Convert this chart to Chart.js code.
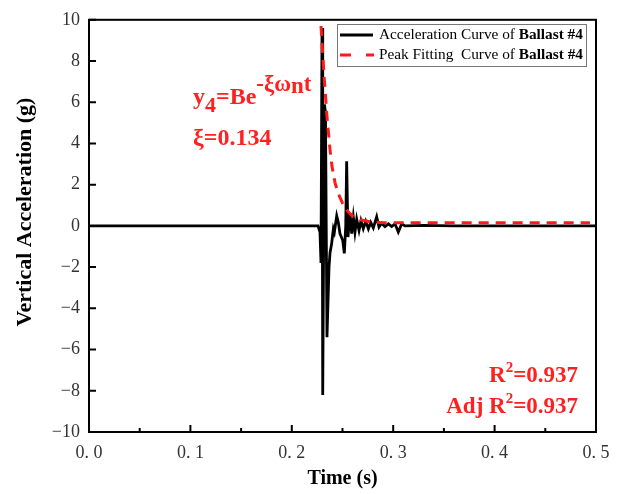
<!DOCTYPE html>
<html>
<head>
<meta charset="utf-8">
<script src="https://cdn.jsdelivr.net/npm/chart.js@4.4.0/dist/chart.umd.min.js"></script>
<style>
  html, body { margin: 0; padding: 0; background: #fff; }
  #wrap { width: 621px; height: 494px; }
</style>
</head>
<body>
<div id="wrap"><canvas id="accChart" width="621" height="494"></canvas></div>
<script>
// acceleration record of ballast #4
const timeAcc = [0, 0.2258, 0.2278, 0.2288, 0.2298, 0.2305, 0.2322, 0.2332, 0.2347, 0.2367, 0.2377,
  0.2393, 0.2410, 0.2420, 0.2443, 0.2459, 0.2475, 0.2502, 0.2518, 0.2532, 0.2541, 0.2554,
  0.2574, 0.2591, 0.2607, 0.2623, 0.2640, 0.2663, 0.2682, 0.2705, 0.2729, 0.2755, 0.2778,
  0.2804, 0.2837, 0.2860, 0.2886, 0.2919, 0.2952, 0.2985, 0.3018, 0.3050, 0.3084, 0.3116,
  0.33, 0.36, 0.5];
const accel = [0, 0, -0.3, -1.8, 9.6, -8.2, 5.9, 5.5, -5.4, -2.0, -1.3,
  -0.86, -0.14, -0.3, 0.49, 0.17, -0.38, -0.7, -1.33, 0, 3.14, -0.54,
  0.57, -0.38, 0.41, -0.3, 0.33, -0.22, 0.25, -0.14, 0.22, -0.14, 0.17,
  -0.1, 0.44, -0.06, 0.13, -0.03, 0.1, -0.03, 0.1, -0.3, 0.1, 0,
  0.03, 0, 0];

// peak fitting curve
const timeFit = [0.2288, 0.2318, 0.2347, 0.2377, 0.2396, 0.2426, 0.2456, 0.2505, 0.2554, 0.2604,
  0.2673, 0.2771, 0.2870, 0.30, 0.35, 0.40, 0.494];
const accFit = [9.7, 7.3, 5.3, 3.7, 2.9, 2.1, 1.6, 1.05, 0.7, 0.45,
  0.3, 0.2, 0.16, 0.15, 0.15, 0.15, 0.15];

const xTicks = [0, 0.1, 0.2, 0.3, 0.4, 0.5];
const xMinor = [0.05, 0.15, 0.25, 0.35, 0.45];
const yTicks = [-10, -8, -6, -4, -2, 0, 2, 4, 6, 8, 10];

const serif = '"Liberation Serif", "Times New Roman", serif';

function richText(ctx, parts, x, y, align) {
  let w = 0;
  parts.forEach(p => { ctx.font = p.font; w += ctx.measureText(p.t).width; });
  let cx = align === 'right' ? x - w : x;
  parts.forEach(p => {
    ctx.font = p.font;
    ctx.fillText(p.t, cx, y + (p.dy || 0));
    cx += ctx.measureText(p.t).width;
  });
}

const decor = {
  id: 'decor',
  afterDraw(chart) {
    const ctx = chart.ctx;
    const a = chart.chartArea;
    const xs = chart.scales.x, ys = chart.scales.y;
    ctx.save();
    // frame
    ctx.strokeStyle = '#000';
    ctx.lineWidth = 2;
    ctx.strokeRect(a.left, a.top, a.right - a.left, a.bottom - a.top);
    // inward ticks
    ctx.beginPath();
    xTicks.forEach(v => { const p = xs.getPixelForValue(v); ctx.moveTo(p, a.bottom); ctx.lineTo(p, a.bottom - 7); });
    xMinor.forEach(v => { const p = xs.getPixelForValue(v); ctx.moveTo(p, a.bottom); ctx.lineTo(p, a.bottom - 4); });
    yTicks.forEach(v => { const p = ys.getPixelForValue(v); ctx.moveTo(a.left, p); ctx.lineTo(a.left + 7, p); });
    ctx.stroke();

    // y axis title (sits a bit above the middle in the original)
    ctx.save();
    ctx.translate(25, 212);
    ctx.rotate(-Math.PI / 2);
    ctx.fillStyle = '#000';
    ctx.font = 'bold 22px ' + serif;
    ctx.textAlign = 'center';
    ctx.textBaseline = 'middle';
    ctx.fillText('Vertical Acceleration (g)', 0, 0);
    ctx.restore();

    // legend
    ctx.fillStyle = '#fff';
    ctx.fillRect(337, 24, 250, 43);
    ctx.strokeStyle = '#777';
    ctx.lineWidth = 1;
    ctx.strokeRect(337.5, 24.5, 249, 42);
    ctx.lineWidth = 3;
    ctx.strokeStyle = '#000';
    ctx.beginPath(); ctx.moveTo(340, 35); ctx.lineTo(373, 35); ctx.stroke();
    ctx.strokeStyle = '#ff1a1a';
    ctx.beginPath(); ctx.moveTo(340, 55); ctx.lineTo(351, 55); ctx.moveTo(366, 55); ctx.lineTo(374, 55); ctx.stroke();
    ctx.fillStyle = '#000';
    ctx.textBaseline = 'middle';
    const lf = '15.3px ' + serif, lb = 'bold 15.3px ' + serif;
    richText(ctx, [{t: 'Acceleration Curve of ', font: lf}, {t: 'Ballast #4', font: lb}], 379, 35);
    richText(ctx, [{t: 'Peak Fitting  Curve of ', font: lf}, {t: 'Ballast #4', font: lb}], 379, 55);

    // annotations
    ctx.textBaseline = 'alphabetic';
    ctx.fillStyle = '#ff2020';
    const big = 'bold 24px ' + serif, sup = 'bold 23px ' + serif, rf = 'bold 23px ' + serif;
    richText(ctx, [{t: 'y', font: big}, {t: '4', font: 'bold 22px ' + serif, dy: 8}, {t: '=Be', font: big},
      {t: '-ξω', font: sup, dy: -13}, {t: 'n', font: sup, dy: -11}, {t: 't', font: sup, dy: -13}], 193, 104);
    richText(ctx, [{t: 'ξ=0.134', font: big}], 193, 145);
    richText(ctx, [{t: 'R', font: rf}, {t: '2', font: 'bold 15px ' + serif, dy: -10}, {t: '=0.937', font: rf}], 578, 382, 'right');
    richText(ctx, [{t: 'Adj R', font: rf}, {t: '2', font: 'bold 15px ' + serif, dy: -10}, {t: '=0.937', font: rf}], 578, 413, 'right');
    ctx.restore();
  }
};

new Chart(document.getElementById('accChart').getContext('2d'), {
  type: 'line',
  data: {
    datasets: [{
      label: 'Acceleration Curve of Ballast #4',
      data: timeAcc.map((t, i) => ({x: t, y: accel[i]})),
      borderColor: '#000',
      borderWidth: 2.8,
      pointRadius: 0,
      tension: 0,
      order: 2
    }, {
      label: 'Peak Fitting  Curve of Ballast #4',
      data: timeFit.map((t, i) => ({x: t, y: accFit[i]})),
      borderColor: '#ff1a1a',
      borderWidth: 3,
      borderDash: [10, 7],
      pointRadius: 0,
      tension: 0,
      order: 1
    }]
  },
  options: {
    responsive: false,
    animation: false,
    layout: { padding: { top: 12, right: 25, left: 0, bottom: 0 } },
    plugins: { legend: { display: false }, tooltip: { enabled: false } },
    scales: {
      x: {
        type: 'linear', min: 0, max: 0.5,
        afterFit(s) { s.height = 62; },
        afterBuildTicks(s) { s.ticks = xTicks.map(v => ({value: v})); },
        grid: { display: false, drawTicks: false },
        border: { display: false },
        ticks: {
          padding: 10, color: '#333',
          font: { family: serif, size: 18 },
          callback: v => v.toFixed(1).replace('.', '. ')
        },
        title: { display: true, text: 'Time (s)', color: '#000',
          font: { family: serif, size: 20, weight: 'bold' }, padding: { top: 3, bottom: 3 } }
      },
      y: {
        min: -10, max: 10,
        afterFit(s) { s.width = 89; },
        afterBuildTicks(s) { s.ticks = yTicks.map(v => ({value: v})); },
        grid: { display: false, drawTicks: false },
        border: { display: false },
        ticks: {
          padding: 9, color: '#333',
          font: { family: serif, size: 18 },
          callback: v => String(v).replace('-', '\u2212')
        },
        title: { display: false }
      }
    }
  },
  plugins: [decor]
});
</script>
</body>
</html>
